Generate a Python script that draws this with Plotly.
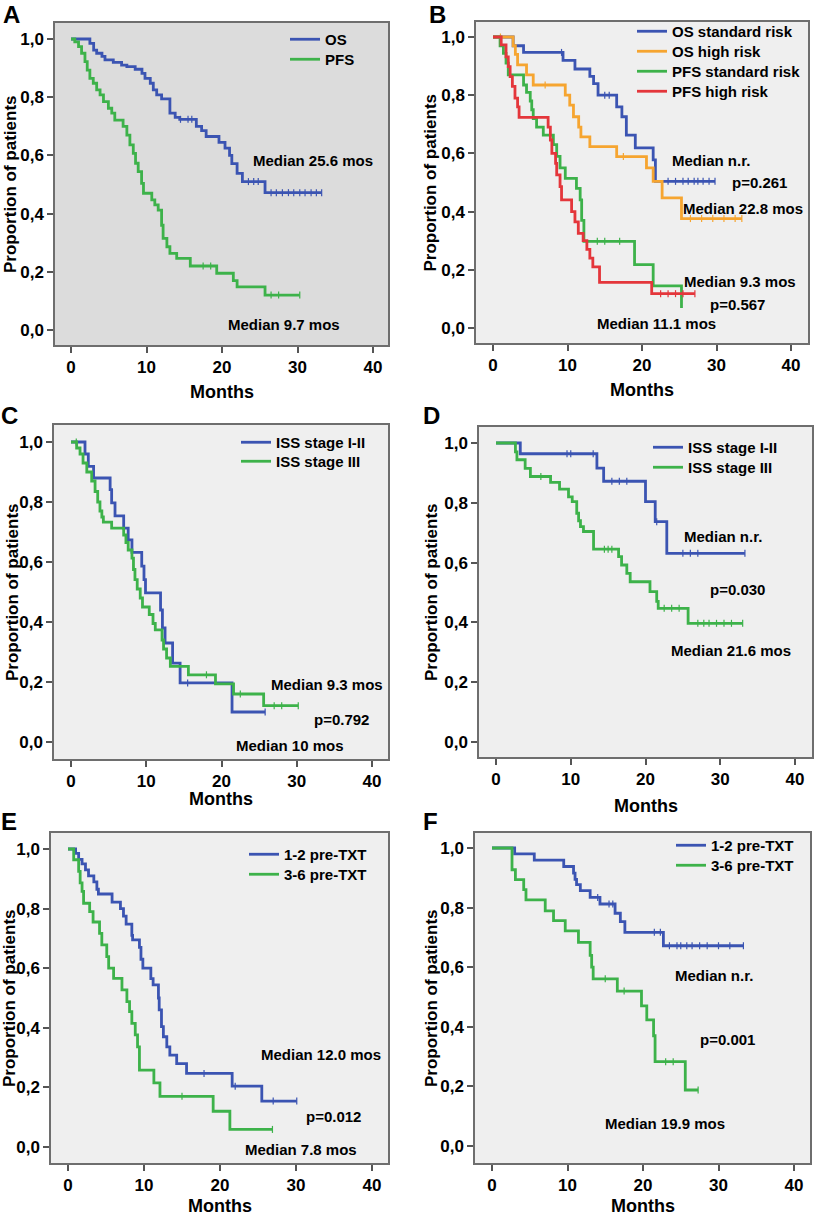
import numpy as np
import plotly.graph_objects as go

W, H = 815, 1215
BLUE = "#3b54b2"
GREEN = "#3db24a"
ORANGE = "#f6a530"
RED = "#e4363b"
FONT = "Liberation Sans, Arial, sans-serif"

# ---------------- data (event times, survival after event, last follow-up, censor times) ----------------
# Panel A
A_os_t = [2.5, 3.0, 3.4, 4.1, 4.5, 5.6, 6.7, 7.4, 8.5, 9.4, 9.8, 10.5, 10.9, 11.35, 12.0, 13.1, 13.8, 14.4, 16.6, 17.3, 17.9, 19.6, 20.4, 21.0, 21.3, 22.0, 22.7, 25.7]
A_os_s = [0.985, 0.962, 0.951, 0.94, 0.928, 0.92, 0.91, 0.905, 0.896, 0.882, 0.865, 0.848, 0.825, 0.808, 0.794, 0.745, 0.731, 0.724, 0.70, 0.685, 0.665, 0.645, 0.625, 0.60, 0.572, 0.538, 0.51, 0.472]
A_os_end = 33.2
A_os_c = [14.5, 15.5, 16.0, 23.5, 24.2, 24.8, 26.5, 27.2, 28.0, 28.8, 29.5, 30.3, 31.0, 31.8, 32.5, 33.2]
A_pfs_t = [0.5, 1.0, 1.4, 1.85, 2.15, 2.5, 2.95, 3.4, 3.85, 4.3, 4.95, 5.4, 5.8, 6.9, 7.4, 7.8, 8.25, 8.55, 8.9, 9.35, 9.6, 10.7, 11.1, 11.55, 12.0, 12.2, 12.7, 13.1, 14.0, 15.8, 19.3, 21.5, 22.0, 25.7]
A_pfs_s = [0.99, 0.974, 0.951, 0.922, 0.893, 0.865, 0.848, 0.825, 0.808, 0.785, 0.762, 0.745, 0.721, 0.70, 0.67, 0.636, 0.607, 0.573, 0.544, 0.504, 0.47, 0.447, 0.43, 0.412, 0.36, 0.315, 0.286, 0.263, 0.246, 0.22, 0.195, 0.17, 0.148, 0.12]
A_pfs_end = 30.3
A_pfs_c = [17.5, 18.5, 26.5, 27.5, 30.3]

# Panel B
B_oss_t = [2.7, 4.1, 9.4, 11.0, 13.0, 13.5, 14.1, 16.6, 17.3, 17.9, 19.1, 21.5, 21.8]
B_oss_s = [0.97, 0.947, 0.92, 0.89, 0.865, 0.84, 0.80, 0.76, 0.726, 0.663, 0.619, 0.578, 0.504]
B_oss_end = 29.8
B_oss_c = [9.2, 15.0, 15.6, 23.5, 24.5, 25.5, 26.2, 27.0, 27.5, 28.2, 29.0, 29.8]
B_osh_t = [2.7, 3.0, 3.3, 4.5, 5.4, 9.7, 10.3, 10.8, 11.5, 11.8, 13.0, 16.6, 20.6, 21.5, 22.7, 25.3]
B_osh_s = [0.97, 0.94, 0.904, 0.87, 0.835, 0.80, 0.766, 0.726, 0.69, 0.657, 0.623, 0.589, 0.55, 0.504, 0.447, 0.376]
B_osh_end = 33.4
B_osh_c = [1.0, 7.0, 17.5, 26.5, 28.0, 29.5, 31.0, 32.5, 33.4]
B_pfss_t = [0.95, 1.4, 1.75, 2.05, 4.1, 4.5, 5.0, 5.2, 5.4, 5.85, 6.75, 8.1, 8.55, 9.0, 9.7, 11.2, 11.7, 11.9, 12.2, 19.0, 21.5, 25.3]
B_pfss_s = [0.97, 0.944, 0.91, 0.87, 0.835, 0.81, 0.78, 0.75, 0.72, 0.69, 0.663, 0.63, 0.59, 0.55, 0.514, 0.48, 0.44, 0.37, 0.298, 0.218, 0.145, 0.069]
B_pfss_end = 25.3
B_pfss_c = [14.0, 15.0, 17.0]
B_pfsh_t = [1.1, 1.75, 2.05, 2.3, 2.6, 2.95, 3.3, 3.5, 7.4, 7.7, 7.9, 8.4, 8.55, 9.0, 9.2, 10.55, 11.0, 11.45, 12.1, 12.6, 13.0, 13.4, 14.3, 21.3]
B_pfsh_s = [0.973, 0.932, 0.898, 0.864, 0.83, 0.79, 0.76, 0.724, 0.69, 0.646, 0.60, 0.566, 0.526, 0.486, 0.44, 0.40, 0.365, 0.325, 0.30, 0.27, 0.24, 0.21, 0.157, 0.118]
B_pfsh_end = 27.1
B_pfsh_c = [22.5, 23.5, 24.5, 25.5, 27.1]

# Panel C
C_12_t = [1.86, 2.3, 3.0, 5.2, 5.4, 5.85, 7.0, 7.6, 8.1, 9.4, 9.7, 9.9, 11.9, 12.15, 12.5, 13.5, 14.5, 21.4]
C_12_s = [0.96, 0.919, 0.88, 0.841, 0.797, 0.754, 0.713, 0.674, 0.632, 0.586, 0.541, 0.497, 0.44, 0.38, 0.33, 0.263, 0.197, 0.10]
C_12_end = 25.8
C_12_c = [15.5, 25.8]
C_3_t = [0.75, 1.2, 1.6, 2.1, 2.75, 3.2, 3.55, 3.85, 4.1, 4.3, 5.4, 7.0, 7.3, 7.6, 8.1, 8.3, 8.5, 8.8, 9.2, 9.5, 10.4, 10.9, 11.2, 12.1, 12.3, 12.7, 13.2, 15.6, 19.2, 21.6, 25.6]
C_3_s = [0.98, 0.96, 0.93, 0.90, 0.87, 0.835, 0.80, 0.77, 0.75, 0.733, 0.713, 0.69, 0.665, 0.64, 0.613, 0.575, 0.541, 0.51, 0.48, 0.45, 0.425, 0.395, 0.374, 0.34, 0.31, 0.28, 0.252, 0.224, 0.194, 0.16, 0.121]
C_3_end = 30.2
C_3_c = [0.7, 18.0, 22.5, 27.0, 28.0, 30.2]

# Panel D
D_12_t = [3.25, 13.5, 14.4, 20.0, 21.3, 22.85]
D_12_s = [0.964, 0.916, 0.872, 0.804, 0.737, 0.631]
D_12_end = 33.3
D_12_c = [9.5, 10.0, 13.0, 15.5, 16.5, 17.5, 21.5, 25.0, 26.0, 27.0, 33.3]
D_3_t = [2.6, 2.8, 3.9, 4.6, 7.3, 8.5, 9.7, 10.2, 10.8, 11.05, 11.3, 11.7, 13.05, 16.4, 16.8, 17.5, 17.95, 20.6, 21.5, 21.7, 25.7]
D_3_s = [0.97, 0.944, 0.915, 0.888, 0.868, 0.846, 0.82, 0.804, 0.765, 0.74, 0.72, 0.704, 0.645, 0.62, 0.592, 0.564, 0.536, 0.503, 0.47, 0.447, 0.397]
D_3_end = 33.0
D_3_c = [6.0, 14.5, 15.0, 15.5, 22.5, 23.5, 24.5, 27.0, 27.8, 28.5, 29.5, 30.5, 31.5, 33.0]

# Panel E
E_12_t = [1.0, 1.4, 1.85, 2.3, 2.7, 3.4, 3.8, 4.0, 5.8, 6.9, 7.3, 7.65, 8.4, 8.5, 9.4, 9.6, 9.85, 10.9, 11.2, 11.9, 12.0, 12.3, 12.55, 13.0, 13.4, 14.3, 15.6, 21.6, 25.5]
E_12_s = [0.985, 0.965, 0.95, 0.93, 0.91, 0.89, 0.865, 0.849, 0.822, 0.80, 0.775, 0.748, 0.71, 0.695, 0.67, 0.63, 0.60, 0.565, 0.544, 0.50, 0.46, 0.404, 0.37, 0.336, 0.308, 0.28, 0.247, 0.204, 0.154]
E_12_end = 30.1
E_12_c = [17.9, 22.0, 27.0, 30.1]
E_36_t = [0.75, 1.4, 1.6, 1.85, 2.05, 2.85, 3.3, 4.15, 4.45, 5.1, 5.35, 6.0, 7.1, 7.75, 8.1, 8.4, 8.85, 9.15, 9.4, 11.3, 12.1, 19.1, 21.3]
E_36_s = [0.964, 0.925, 0.886, 0.858, 0.818, 0.79, 0.755, 0.717, 0.678, 0.639, 0.60, 0.566, 0.527, 0.488, 0.454, 0.415, 0.376, 0.336, 0.258, 0.215, 0.17, 0.12, 0.059]
E_36_end = 26.9
E_36_c = [15.0, 26.9]

# Panel F
F_12_t = [3.0, 5.6, 9.5, 10.8, 11.0, 11.2, 11.7, 13.0, 14.3, 16.3, 17.0, 17.6, 22.7]
F_12_s = [0.98, 0.959, 0.938, 0.916, 0.895, 0.877, 0.857, 0.834, 0.812, 0.781, 0.753, 0.717, 0.672]
F_12_end = 33.3
F_12_c = [14.0, 15.5, 16.0, 21.5, 22.3, 23.5, 24.5, 25.0, 25.8, 26.5, 27.5, 28.5, 30.0, 31.5, 33.3]
F_36_t = [2.65, 3.1, 4.2, 4.5, 7.05, 8.15, 9.7, 11.45, 13.0, 13.2, 13.4, 16.6, 19.8, 20.5, 21.4, 21.6, 25.6]
F_36_s = [0.927, 0.894, 0.86, 0.826, 0.789, 0.756, 0.722, 0.683, 0.64, 0.60, 0.561, 0.52, 0.47, 0.423, 0.37, 0.283, 0.188]
F_36_end = 27.3
F_36_c = [15.0, 17.5, 23.0, 24.0, 27.3]

x_ticks = [0, 10, 20, 30, 40]
y_ticks = [0.0, 0.2, 0.4, 0.6, 0.8, 1.0]

# ---------------- layout specs (pixel boxes) ----------------
panels = [
    dict(letter="A", box=(55, 388, 23, 345), x0=71, xpm=7.55, y1=39, y0=330, bg="#dcdcdc",
         curves=[("OS", A_os_t, A_os_s, A_os_end, A_os_c, BLUE),
                 ("PFS", A_pfs_t, A_pfs_s, A_pfs_end, A_pfs_c, GREEN)],
         notes=[("Median 25.6 mos", 32.1, 0.583), ("Median 9.7 mos", 28.2, 0.019)],
         leg=(325, [39, 59]), let=(2, 0, "top"), ytitle_x=10, months_y=392),
    dict(letter="B", box=(476, 808, 22, 343), x0=493, xpm=7.45, y1=37, y0=328, bg="#efefef",
         curves=[("OS standard risk", B_oss_t, B_oss_s, B_oss_end, B_oss_c, BLUE),
                 ("OS high risk", B_osh_t, B_osh_s, B_osh_end, B_osh_c, ORANGE),
                 ("PFS standard risk", B_pfss_t, B_pfss_s, B_pfss_end, B_pfss_c, GREEN),
                 ("PFS high risk", B_pfsh_t, B_pfsh_s, B_pfsh_end, B_pfsh_c, RED)],
         notes=[("Median n.r.", 29.3, 0.576), ("p=0.261", 35.8, 0.50), ("Median 22.8 mos", 33.6, 0.409),
                ("Median 9.3 mos", 33.1, 0.16), ("p=0.567", 32.8, 0.082), ("Median 11.1 mos", 22.0, 0.015)],
         leg=(672, [31, 51, 71, 91]), let=(428, 0, "top"), ytitle_x=430, months_y=390),
    dict(letter="C", box=(54, 388, 425, 759), x0=71, xpm=7.525, y1=442, y0=742, bg="#efefef",
         curves=[("ISS stage I-II", C_12_t, C_12_s, C_12_end, C_12_c, BLUE),
                 ("ISS stage III", C_3_t, C_3_s, C_3_end, C_3_c, GREEN)],
         notes=[("Median 9.3 mos", 34.0, 0.191), ("p=0.792", 36.0, 0.074), ("Median 10 mos", 29.1, -0.011)],
         leg=(276, [442, 461]), let=(0, 416, "middle"), ytitle_x=12, months_y=799),
    dict(letter="D", box=(479, 812, 427, 757), x0=496, xpm=7.475, y1=443, y0=742, bg="#efefef",
         curves=[("ISS stage I-II", D_12_t, D_12_s, D_12_end, D_12_c, BLUE),
                 ("ISS stage III", D_3_t, D_3_s, D_3_end, D_3_c, GREEN)],
         notes=[("Median n.r.", 30.4, 0.687), ("p=0.030", 32.3, 0.51), ("Median 21.6 mos", 31.5, 0.307)],
         leg=(688, [447, 467]), let=(422, 415, "middle"), ytitle_x=431, months_y=806),
    dict(letter="E", box=(51, 388, 833, 1163), x0=68, xpm=7.6, y1=849, y0=1147, bg="#efefef",
         curves=[("1-2 pre-TXT", E_12_t, E_12_s, E_12_end, E_12_c, BLUE),
                 ("3-6 pre-TXT", E_36_t, E_36_s, E_36_end, E_36_c, GREEN)],
         notes=[("Median 12.0 mos", 33.3, 0.312), ("p=0.012", 34.9, 0.104), ("Median 7.8 mos", 30.6, -0.008)],
         leg=(284, [854, 874]), let=(0, 821, "middle"), ytitle_x=9, months_y=1206),
    dict(letter="F", box=(475, 810, 833, 1163), x0=492, xpm=7.55, y1=848, y0=1146, bg="#efefef",
         curves=[("1-2 pre-TXT", F_12_t, F_12_s, F_12_end, F_12_c, BLUE),
                 ("3-6 pre-TXT", F_36_t, F_36_s, F_36_end, F_36_c, GREEN)],
         notes=[("Median n.r.", 29.4, 0.572), ("p=0.001", 31.2, 0.358), ("Median 19.9 mos", 22.9, 0.075)],
         leg=(711, [845, 865]), let=(422, 821, "middle"), ytitle_x=431, months_y=1206),
]


def step_xy(t, s, end):
    return [0.0] + list(t) + [end], [1.0] + list(s) + [s[-1]]


def surv_at(t, s, c):
    t = np.asarray(t)
    s = np.asarray([1.0] + list(s))
    idx = np.searchsorted(t, np.asarray(c), side="right")
    return s[idx].tolist()


fig = go.Figure()
annotations = []
shapes = []
layout = dict(width=W, height=H, margin=dict(l=0, r=0, t=0, b=0), paper_bgcolor="white",
              plot_bgcolor="white", separators=",.", showlegend=True,
              font=dict(family=FONT, color="black"))

legn = 0
for i, p in enumerate(panels):
    n = i + 1
    sfx = "" if n == 1 else str(n)
    xl, xr, yt, yb = p["box"]
    ppu = p["y0"] - p["y1"]
    xrange = [(xl - p["x0"]) / p["xpm"], (xr - p["x0"]) / p["xpm"]]
    yrange = [-(yb - p["y0"]) / ppu, 1 + (p["y1"] - yt) / ppu]
    axcommon = dict(showgrid=False, zeroline=False, showline=True, mirror=True, linecolor="#6e6e6e",
                    linewidth=1.5, ticks="outside", ticklen=6, tickwidth=1.5, tickcolor="#555555",
                    tickfont=dict(family=FONT, size=17, weight="bold", color="black"))
    layout["xaxis" + sfx] = dict(axcommon, domain=[xl / W, xr / W], range=xrange, tickvals=x_ticks,
                                 anchor="y" + sfx)
    layout["yaxis" + sfx] = dict(axcommon, domain=[1 - yb / H, 1 - yt / H], range=yrange, tickvals=y_ticks,
                                 tickformat=".1f", anchor="x" + sfx)
    shapes.append(dict(type="rect", xref="x" + sfx + " domain", yref="y" + sfx + " domain",
                       x0=0, x1=1, y0=0, y1=1, fillcolor=p["bg"], line=dict(width=0), layer="below"))
    lx, rows = p["leg"]
    for (name, t, s, end, c, col), ry in zip(p["curves"], rows):
        legn += 1
        legname = "legend" if legn == 1 else "legend" + str(legn)
        layout[legname] = dict(x=(lx - 40) / W, y=1 - (ry - 16) / H, xanchor="left", yanchor="top",
                               bgcolor="rgba(0,0,0,0)", itemwidth=30, tracegroupgap=0,
                               font=dict(family=FONT, size=15, weight="bold", color="black"))
        x, y = step_xy(t, s, end)
        fig.add_trace(go.Scatter(x=x, y=y, mode="lines", line=dict(color=col, width=2.8, shape="hv"),
                                 name=name, legend=legname, xaxis="x" + sfx, yaxis="y" + sfx,
                                 hoverinfo="skip"))
        fig.add_trace(go.Scatter(x=c, y=surv_at(t, s, c), mode="markers",
                                 marker=dict(symbol="line-ns", size=5, line=dict(color=col, width=1.2)),
                                 showlegend=False, xaxis="x" + sfx, yaxis="y" + sfx, hoverinfo="skip"))
    for txt, ax_, ay_ in p["notes"]:
        annotations.append(dict(text=txt, x=ax_, y=ay_, xref="x" + sfx, yref="y" + sfx, showarrow=False,
                                xanchor="center", yanchor="middle",
                                font=dict(family=FONT, size=15, weight="bold", color="black")))
    lxp, lyp, lanc = p["let"]
    annotations.append(dict(text=p["letter"], x=lxp / W, y=1 - lyp / H, xref="paper", yref="paper",
                            xanchor="left", yanchor=lanc, showarrow=False, borderpad=0,
                            font=dict(family=FONT, size=24, weight="bold", color="black")))
    annotations.append(dict(text="Months", x=(xl + xr) / 2 / W, y=1 - p["months_y"] / H, xref="paper",
                            yref="paper", showarrow=False, xanchor="center", yanchor="middle",
                            font=dict(family=FONT, size=18, weight="bold", color="black")))
    annotations.append(dict(text="Proportion of patients", x=p["ytitle_x"] / W, y=1 - (yt + yb) / 2 / H,
                            xref="paper", yref="paper", showarrow=False, textangle=-90,
                            xanchor="center", yanchor="middle",
                            font=dict(family=FONT, size=17, weight="bold", color="black")))

layout["annotations"] = annotations
layout["shapes"] = shapes
fig.update_layout(**layout)
fig.write_html("out.html", config={"displayModeBar": False},
               post_script="document.body.style.margin='0px';")
